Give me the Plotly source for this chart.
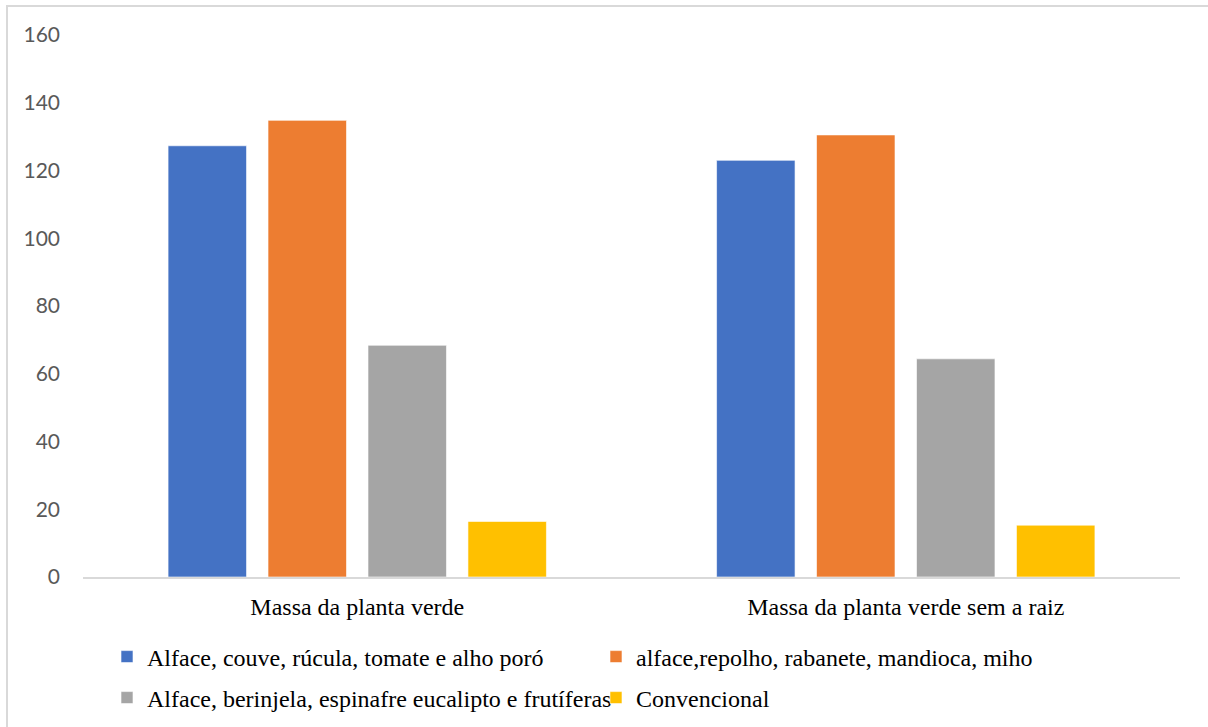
import plotly.graph_objects as go

# Categories and series values
categories = ["Massa da planta verde", "Massa da planta verde sem a raiz"]
series_names = [
    "Alface, couve, rúcula, tomate e alho poró",
    "alface,repolho, rabanete, mandioca, miho",
    "Alface, berinjela, espinafre eucalipto e frutíferas",
    "Convencional",
]
values_alface_couve = [127.3, 123.0]
values_alface_repolho = [134.8, 130.5]
values_alface_berinjela = [68.4, 64.4]
values_convencional = [16.4, 15.3]
y_ticks = [0, 20, 40, 60, 80, 100, 120, 140, 160]

colors = ["#4472C4", "#ED7D31", "#A5A5A5", "#FFC000"]
series_values = [values_alface_couve, values_alface_repolho,
                 values_alface_berinjela, values_convencional]
# first two series in the upper legend row, last two in the lower row
legend_rows = ["legend", "legend", "legend2", "legend2"]

W, H = 1208, 727
L, R, T, B = 83, 28, 35, 150
plot_w = W - L - R
plot_h = H - T - B

fig = go.Figure()
for name, vals, col, lg in zip(series_names, series_values, colors, legend_rows):
    fig.add_trace(go.Bar(
        x=categories, y=vals, name=name, legend=lg,
        marker=dict(color=col, line=dict(color="rgba(255,255,255,0.6)", width=1)),
    ))


def px_to_paper_x(px):
    return (px - L) / plot_w


def px_to_paper_y(py):
    return (H - B - py) / plot_h


legend_common = dict(
    orientation="h",
    x=px_to_paper_x(107), xanchor="left",
    yanchor="middle",
    font=dict(family="Liberation Serif", size=24, color="#000000"),
    entrywidth=444, entrywidthmode="pixels",
    traceorder="normal",
    itemwidth=30,
    bgcolor="rgba(0,0,0,0)",
)

fig.update_layout(
    width=W, height=H,
    margin=dict(l=L, r=R, t=T, b=B, autoexpand=False),
    paper_bgcolor="white", plot_bgcolor="white",
    barmode="group", bargap=0.271, bargroupgap=0.215,
    showlegend=True,
    legend=dict(legend_common, y=px_to_paper_y(657)),
    legend2=dict(legend_common, y=px_to_paper_y(698)),
    xaxis=dict(
        showline=True, linecolor="#D9D9D9", linewidth=2,
        ticks="", showgrid=False, zeroline=False,
        tickfont=dict(family="Liberation Serif", size=24, color="#000000"),
        ticklabelstandoff=7,
    ),
    yaxis=dict(
        range=[0, 160], tickvals=y_ticks,
        showline=False, showgrid=False, zeroline=False,
        tickfont=dict(family="Lato", size=21, color="#595959"),
        ticklabelstandoff=22,
    ),
    shapes=[dict(
        type="rect", xref="paper", yref="paper",
        x0=px_to_paper_x(7), x1=px_to_paper_x(W + 10),
        y0=px_to_paper_y(H + 10), y1=px_to_paper_y(6),
        line=dict(color="#D9D9D9", width=2), fillcolor="rgba(0,0,0,0)",
        layer="below",
    )],
)

fig.write_html("out.html", config={"displayModeBar": False})
